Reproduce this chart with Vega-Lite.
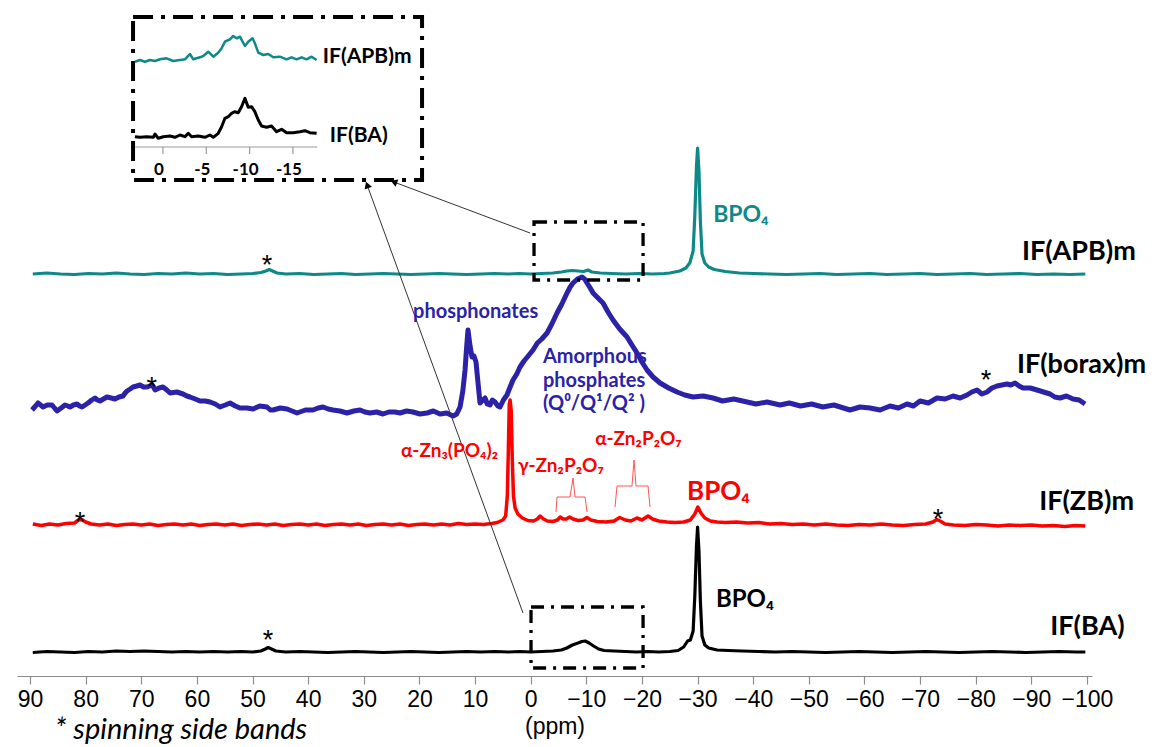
{
  "$schema": "https://vega.github.io/schema/vega-lite/v6.json",
  "width": 1075,
  "height": 676,
  "autosize": {"type": "none"},
  "padding": {"left": 17, "top": 0, "right": 62, "bottom": 71},
  "background": "white",
  "config": {"view": {"stroke": null}},
  "datasets": {
    "teal": [
      {"x":89.5,"v":402},{"x":87,"v":403},{"x":84.5,"v":402},{"x":82,"v":401.5},{"x":79.5,"v":402.5},{"x":77,"v":402},{"x":74.5,"v":403},{"x":72,"v":402},{"x":69.5,"v":401.5},{"x":67,"v":402.5},{"x":64.5,"v":402},{"x":62,"v":403},{"x":59.5,"v":402},{"x":57,"v":402.5},{"x":54.5,"v":401.5},{"x":52,"v":402},{"x":50,"v":402.5},{"x":48.5,"v":403.5},{"x":47.6,"v":405},{"x":47.0,"v":406.5},{"x":46.4,"v":405},{"x":45.6,"v":403},{"x":44,"v":402},{"x":41.5,"v":402.5},{"x":39,"v":401.5},{"x":36.5,"v":402},{"x":34,"v":402.5},{"x":31.5,"v":401.5},{"x":29,"v":402},{"x":26.5,"v":402.5},{"x":24,"v":402},{"x":21.5,"v":401.5},{"x":19,"v":402},{"x":16.5,"v":402.5},{"x":14,"v":402},{"x":11.5,"v":401.5},{"x":9,"v":402},{"x":6.5,"v":402.5},{"x":4,"v":402},{"x":2,"v":402.5},{"x":0,"v":402},{"x":-2,"v":402.5},{"x":-4,"v":403},{"x":-5.5,"v":404},{"x":-6.5,"v":405},{"x":-7.5,"v":405.5},{"x":-8.5,"v":405},{"x":-9.5,"v":404.5},{"x":-10.3,"v":406},{"x":-11,"v":404},{"x":-12.5,"v":403},{"x":-14.5,"v":402.5},{"x":-17,"v":402},{"x":-19.5,"v":402.5},{"x":-22,"v":402},{"x":-24,"v":402.5},{"x":-25,"v":403},{"x":-26.8,"v":405},{"x":-27.9,"v":408},{"x":-28.6,"v":413},{"x":-29.2,"v":425},{"x":-29.5,"v":460},{"x":-29.8,"v":510},{"x":-30.0,"v":528},{"x":-30.25,"v":505},{"x":-30.5,"v":455},{"x":-30.8,"v":422},{"x":-31.3,"v":413},{"x":-32,"v":409},{"x":-33,"v":406.5},{"x":-35,"v":404.5},{"x":-37.5,"v":403},{"x":-40,"v":402.5},{"x":-43,"v":402},{"x":-46,"v":401.5},{"x":-49,"v":402},{"x":-52,"v":402.5},{"x":-55,"v":401.5},{"x":-58,"v":402},{"x":-61,"v":402.5},{"x":-64,"v":401.5},{"x":-67,"v":402},{"x":-70,"v":402.5},{"x":-73,"v":401.5},{"x":-76,"v":402},{"x":-79,"v":402.5},{"x":-82,"v":401.5},{"x":-85,"v":402},{"x":-88,"v":402.5},{"x":-91,"v":401.5},{"x":-94,"v":402},{"x":-97,"v":401.5},{"x":-99.7,"v":402}
    ],
    "blue": [
      {"x":89.64,"v":266},{"x":89.0,"v":270},{"x":88.56,"v":273},{"x":88.1,"v":271},{"x":87.66,"v":269},{"x":86.9,"v":271},{"x":86.05,"v":271},{"x":85.6,"v":268},{"x":85.15,"v":265},{"x":84.4,"v":268},{"x":83.71,"v":271},{"x":83.2,"v":270},{"x":82.81,"v":269},{"x":82.2,"v":271},{"x":81.55,"v":272},{"x":81.1,"v":270},{"x":80.65,"v":269},{"x":80.1,"v":271},{"x":79.57,"v":273},{"x":78.9,"v":276},{"x":78.32,"v":278},{"x":77.9,"v":276},{"x":77.42,"v":275},{"x":76.8,"v":277},{"x":76.16,"v":279},{"x":75.4,"v":278},{"x":74.72,"v":277},{"x":74.0,"v":279},{"x":73.28,"v":280},{"x":72.9,"v":283},{"x":72.56,"v":285},{"x":72.0,"v":287},{"x":71.48,"v":289},{"x":70.8,"v":290},{"x":70.23,"v":291},{"x":69.6,"v":289},{"x":68.97,"v":289},{"x":68.5,"v":290},{"x":68.07,"v":291},{"x":67.8,"v":289},{"x":67.53,"v":286},{"x":66.8,"v":288},{"x":66.09,"v":289},{"x":65.4,"v":286},{"x":64.83,"v":283},{"x":63.6,"v":284},{"x":62.5,"v":282},{"x":61.8,"v":280},{"x":61.24,"v":279},{"x":60.3,"v":277},{"x":59.44,"v":275},{"x":58.5,"v":275},{"x":57.64,"v":274},{"x":56.7,"v":272},{"x":55.85,"v":269},{"x":54.9,"v":271},{"x":54.05,"v":273},{"x":53.1,"v":270},{"x":52.25,"v":268},{"x":51.0,"v":268},{"x":49.91,"v":267},{"x":48.7,"v":270},{"x":47.4,"v":269},{"x":46.8,"v":266},{"x":46.32,"v":266},{"x":45.0,"v":268},{"x":43.8,"v":267},{"x":42.9,"v":265},{"x":42.0,"v":263},{"x":40.5,"v":266},{"x":39.13,"v":266},{"x":38.2,"v":268},{"x":37.33,"v":269},{"x":36.4,"v":267},{"x":35.53,"v":266},{"x":34.3,"v":265},{"x":33.02,"v":263},{"x":31.8,"v":265},{"x":30.68,"v":266},{"x":29.8,"v":264},{"x":28.88,"v":263},{"x":27.7,"v":264},{"x":26.55,"v":262},{"x":25.5,"v":264},{"x":24.39,"v":264},{"x":23.49,"v":263},{"x":22.3,"v":265},{"x":21.15,"v":264},{"x":19.9,"v":262},{"x":18.63,"v":263},{"x":17.5,"v":265},{"x":16.3,"v":262},{"x":15.1,"v":263},{"x":13.96,"v":260},{"x":13.3,"v":262},{"x":12.7,"v":269},{"x":12.2,"v":285},{"x":11.8,"v":306},{"x":11.5,"v":330},{"x":11.27,"v":346},{"x":10.9,"v":330},{"x":10.55,"v":319},{"x":10.2,"v":320},{"x":9.83,"v":314},{"x":9.5,"v":295},{"x":9.11,"v":273},{"x":8.6,"v":276},{"x":8.21,"v":278},{"x":7.8,"v":272},{"x":7.31,"v":271},{"x":6.9,"v":276},{"x":6.41,"v":274},{"x":5.9,"v":270},{"x":5.51,"v":269},{"x":4.9,"v":276},{"x":4.26,"v":281},{"x":3.7,"v":289},{"x":3.18,"v":296},{"x":2.5,"v":302},{"x":1.92,"v":309},{"x":1.2,"v":315},{"x":0.6,"v":319},{"x":-0.42,"v":326},{"x":-1.2,"v":333},{"x":-2.0,"v":337},{"x":-2.94,"v":343},{"x":-3.8,"v":352},{"x":-4.73,"v":363},{"x":-5.6,"v":372},{"x":-6.53,"v":383},{"x":-7.1,"v":389},{"x":-7.61,"v":393},{"x":-8.4,"v":397},{"x":-9.23,"v":399},{"x":-9.7,"v":397},{"x":-10.13,"v":393},{"x":-10.7,"v":388},{"x":-11.21,"v":383},{"x":-12.1,"v":378},{"x":-13.0,"v":373},{"x":-13.9,"v":364},{"x":-14.8,"v":356},{"x":-16.0,"v":347},{"x":-17.32,"v":339},{"x":-18.2,"v":331},{"x":-19.12,"v":323},{"x":-20.0,"v":314},{"x":-20.91,"v":306},{"x":-22.0,"v":299},{"x":-23.25,"v":293},{"x":-24.8,"v":288},{"x":-26.31,"v":284},{"x":-27.7,"v":281},{"x":-29.18,"v":279},{"x":-31.0,"v":280},{"x":-32.78,"v":278},{"x":-34.5,"v":275},{"x":-36.5,"v":277},{"x":-38.89,"v":274},{"x":-40.5,"v":272},{"x":-42.5,"v":274},{"x":-44.82,"v":271},{"x":-46.5,"v":273},{"x":-48.5,"v":270},{"x":-50.5,"v":272},{"x":-52.5,"v":269},{"x":-54.5,"v":271},{"x":-57.4,"v":266},{"x":-59.2,"v":269},{"x":-61.0,"v":268},{"x":-62.8,"v":266},{"x":-64.59,"v":270},{"x":-66.1,"v":268},{"x":-67.65,"v":272},{"x":-68.8,"v":270},{"x":-69.99,"v":275},{"x":-71.5,"v":273},{"x":-73.04,"v":278},{"x":-74.5,"v":277},{"x":-75.92,"v":280},{"x":-77.2,"v":278},{"x":-78.43,"v":281},{"x":-79.3,"v":284},{"x":-80.23,"v":286},{"x":-81.1,"v":282},{"x":-82.03,"v":284},{"x":-82.9,"v":288},{"x":-83.83,"v":290},{"x":-84.7,"v":291},{"x":-85.63,"v":292},{"x":-86.3,"v":291},{"x":-87.06,"v":293},{"x":-87.8,"v":290},{"x":-88.5,"v":288},{"x":-89.8,"v":288},{"x":-91.02,"v":286},{"x":-92.2,"v":284},{"x":-93.36,"v":282},{"x":-94.2,"v":279},{"x":-95.15,"v":278},{"x":-96.3,"v":280},{"x":-97.49,"v":277},{"x":-98.6,"v":276},{"x":-99.65,"v":272}
    ],
    "red": [
      {"x":89.5,"v":152},{"x":88,"v":150.5},{"x":86.5,"v":152},{"x":85,"v":151},{"x":83.5,"v":152.5},{"x":82,"v":153},{"x":81.3,"v":156},{"x":80.7,"v":156.5},{"x":80,"v":154},{"x":79,"v":152},{"x":77.5,"v":151},{"x":76,"v":152},{"x":74.5,"v":150.5},{"x":73,"v":151.5},{"x":71.5,"v":152},{"x":70,"v":151},{"x":68.5,"v":152},{"x":67,"v":150.5},{"x":65.5,"v":151.5},{"x":64,"v":152},{"x":62.5,"v":151},{"x":61,"v":152},{"x":59.5,"v":150.5},{"x":58,"v":151.5},{"x":56.5,"v":152},{"x":55,"v":151},{"x":53.5,"v":152},{"x":52,"v":150.5},{"x":50.5,"v":151.5},{"x":49,"v":152},{"x":47.5,"v":151},{"x":46,"v":152},{"x":44.5,"v":150.5},{"x":43,"v":151.5},{"x":41.5,"v":152},{"x":40,"v":151},{"x":38.5,"v":152},{"x":37,"v":150.5},{"x":35.5,"v":151.5},{"x":34,"v":152},{"x":32.5,"v":151},{"x":31,"v":152},{"x":29.5,"v":150.5},{"x":28,"v":151.5},{"x":26.5,"v":152},{"x":25,"v":151},{"x":23.5,"v":152},{"x":22,"v":150.5},{"x":20.5,"v":151.5},{"x":19,"v":152},{"x":17.5,"v":151},{"x":16,"v":152},{"x":14.5,"v":151},{"x":13,"v":152.5},{"x":11.5,"v":151.5},{"x":10,"v":152},{"x":8.5,"v":151.5},{"x":7,"v":152.5},{"x":6,"v":153.5},{"x":5,"v":156},{"x":4.5,"v":160},{"x":4.2,"v":180},{"x":4.0,"v":230},{"x":3.85,"v":272},{"x":3.7,"v":276},{"x":3.5,"v":265},{"x":3.3,"v":215},{"x":3.1,"v":180},{"x":2.8,"v":168},{"x":2.3,"v":162},{"x":1.5,"v":158},{"x":0.5,"v":155.5},{"x":-0.5,"v":155},{"x":-1.2,"v":157},{"x":-1.7,"v":160},{"x":-2.3,"v":157},{"x":-3,"v":155},{"x":-4,"v":154.5},{"x":-4.8,"v":156},{"x":-5.3,"v":159},{"x":-5.8,"v":157},{"x":-6.4,"v":157},{"x":-7.0,"v":159},{"x":-7.6,"v":157},{"x":-8.5,"v":155.5},{"x":-9.4,"v":156},{"x":-10.1,"v":158.5},{"x":-10.8,"v":156},{"x":-12,"v":154.5},{"x":-13.5,"v":154},{"x":-15,"v":155},{"x":-16,"v":158.5},{"x":-17,"v":156},{"x":-18,"v":155},{"x":-19.1,"v":158},{"x":-20,"v":156},{"x":-21.1,"v":160},{"x":-21.9,"v":157},{"x":-23,"v":155},{"x":-24.5,"v":154},{"x":-26,"v":153.5},{"x":-27.5,"v":154},{"x":-28.7,"v":156},{"x":-29.5,"v":162},{"x":-30.05,"v":169},{"x":-30.6,"v":163},{"x":-31.3,"v":158},{"x":-32.3,"v":155},{"x":-33.5,"v":154},{"x":-35,"v":153.5},{"x":-37,"v":154},{"x":-39,"v":153},{"x":-41,"v":153.5},{"x":-43,"v":152},{"x":-45,"v":152.5},{"x":-47,"v":151.5},{"x":-49,"v":152},{"x":-51,"v":151},{"x":-53,"v":152},{"x":-55,"v":151},{"x":-57,"v":150.5},{"x":-59,"v":151.5},{"x":-61,"v":151},{"x":-63,"v":152},{"x":-65,"v":151},{"x":-67,"v":150.5},{"x":-69,"v":151.5},{"x":-71,"v":152},{"x":-72.3,"v":154},{"x":-73.0,"v":156.5},{"x":-73.6,"v":155},{"x":-74.5,"v":152},{"x":-76,"v":151},{"x":-78,"v":150.5},{"x":-80,"v":151.5},{"x":-82,"v":151},{"x":-84,"v":150},{"x":-86,"v":151},{"x":-88,"v":150.5},{"x":-90,"v":151},{"x":-92,"v":150},{"x":-94,"v":150.5},{"x":-96,"v":149.5},{"x":-98,"v":150.5},{"x":-99.7,"v":150}
    ],
    "black": [
      {"x":89.5,"v":23.5},{"x":87,"v":24.5},{"x":84.5,"v":24},{"x":82,"v":23.5},{"x":79.5,"v":24.5},{"x":77,"v":24},{"x":74.5,"v":25},{"x":72,"v":24.5},{"x":69.5,"v":25},{"x":67,"v":24.5},{"x":64.5,"v":24},{"x":62,"v":24.5},{"x":59.5,"v":24},{"x":57,"v":24.5},{"x":54.5,"v":24},{"x":52,"v":24.5},{"x":50,"v":24},{"x":48.5,"v":25},{"x":47.7,"v":27},{"x":47.2,"v":28.5},{"x":46.6,"v":27},{"x":45.8,"v":25},{"x":44,"v":24},{"x":41.5,"v":24.5},{"x":39,"v":24},{"x":36.5,"v":23.5},{"x":34,"v":24},{"x":31.5,"v":24.5},{"x":29,"v":24},{"x":26.5,"v":23.5},{"x":24,"v":24},{"x":21.5,"v":24.5},{"x":19,"v":24},{"x":16.5,"v":23.5},{"x":14,"v":24},{"x":11.5,"v":24.5},{"x":9,"v":24},{"x":6.5,"v":24.5},{"x":4,"v":24},{"x":2,"v":24.5},{"x":0,"v":24},{"x":-2,"v":24.5},{"x":-4,"v":25},{"x":-5.5,"v":26},{"x":-6.5,"v":28},{"x":-7.5,"v":31},{"x":-8.5,"v":33},{"x":-9.2,"v":34.5},{"x":-9.8,"v":35},{"x":-10.5,"v":33},{"x":-11.3,"v":30},{"x":-12.2,"v":27},{"x":-13.2,"v":25.5},{"x":-15,"v":25},{"x":-17,"v":24.5},{"x":-19,"v":24},{"x":-21,"v":24.5},{"x":-23,"v":24},{"x":-25,"v":24.5},{"x":-26.5,"v":25.5},{"x":-27.5,"v":29},{"x":-28.2,"v":35},{"x":-28.7,"v":36},{"x":-29.2,"v":45},{"x":-29.5,"v":80},{"x":-29.8,"v":130},{"x":-30.0,"v":149},{"x":-30.25,"v":125},{"x":-30.5,"v":75},{"x":-30.8,"v":40},{"x":-31.3,"v":31},{"x":-32,"v":28},{"x":-33.5,"v":26},{"x":-35.5,"v":25.5},{"x":-38,"v":25},{"x":-41,"v":24.5},{"x":-44,"v":24},{"x":-47,"v":24.5},{"x":-50,"v":24},{"x":-53,"v":23.5},{"x":-56,"v":24},{"x":-59,"v":24.5},{"x":-62,"v":24},{"x":-65,"v":23.5},{"x":-68,"v":24},{"x":-71,"v":24.5},{"x":-74,"v":24},{"x":-77,"v":23.5},{"x":-80,"v":24},{"x":-83,"v":24.5},{"x":-86,"v":24},{"x":-89,"v":23.5},{"x":-92,"v":24},{"x":-95,"v":24.5},{"x":-98,"v":24},{"x":-99.7,"v":24}
    ],
    "insetTeal": [
      {"x":3.23,"v":614.3},{"x":2.65,"v":616},{"x":2.08,"v":614.3},{"x":1.5,"v":616},{"x":0.92,"v":615},{"x":0.35,"v":616.7},{"x":-0.42,"v":617.7},{"x":-1.19,"v":615},{"x":-1.96,"v":616},{"x":-2.54,"v":616.7},{"x":-3.11,"v":622},{"x":-3.5,"v":616.7},{"x":-4.27,"v":618.7},{"x":-4.65,"v":620},{"x":-5.23,"v":624.3},{"x":-5.81,"v":619.3},{"x":-6.38,"v":623.3},{"x":-6.77,"v":627.7},{"x":-7.15,"v":634.3},{"x":-7.73,"v":636.7},{"x":-8.11,"v":640},{"x":-8.5,"v":637.7},{"x":-8.88,"v":639.3},{"x":-9.46,"v":630},{"x":-9.84,"v":634.3},{"x":-10.34,"v":637.7},{"x":-10.61,"v":632.7},{"x":-11.0,"v":623.3},{"x":-11.57,"v":621},{"x":-12.15,"v":622},{"x":-12.73,"v":618.7},{"x":-13.49,"v":619.3},{"x":-14.27,"v":616.7},{"x":-14.84,"v":618.7},{"x":-15.42,"v":616.7},{"x":-16.0,"v":618.7},{"x":-16.57,"v":616.7},{"x":-17.15,"v":619.3},{"x":-17.73,"v":616}
    ],
    "insetBlack": [
      {"x":3.23,"v":539.3},{"x":2.65,"v":538.7},{"x":1.88,"v":539.3},{"x":1.11,"v":538.7},{"x":0.92,"v":542},{"x":0.54,"v":537.7},{"x":-0.04,"v":539.3},{"x":-0.81,"v":540},{"x":-1.38,"v":538.7},{"x":-1.96,"v":541},{"x":-2.54,"v":539.3},{"x":-2.92,"v":542.7},{"x":-3.31,"v":539.3},{"x":-4.07,"v":540},{"x":-4.84,"v":538.7},{"x":-5.42,"v":541},{"x":-5.81,"v":538.7},{"x":-6.38,"v":542.7},{"x":-6.77,"v":549.3},{"x":-7.15,"v":557.7},{"x":-7.54,"v":559.3},{"x":-7.92,"v":562.7},{"x":-8.3,"v":564.3},{"x":-8.69,"v":563.3},{"x":-9.07,"v":569.3},{"x":-9.46,"v":577.7},{"x":-9.84,"v":568.7},{"x":-10.23,"v":569.3},{"x":-10.61,"v":564.3},{"x":-11.0,"v":556},{"x":-11.38,"v":550},{"x":-11.96,"v":548.7},{"x":-12.53,"v":550},{"x":-13.11,"v":544.3},{"x":-13.69,"v":546.7},{"x":-14.27,"v":543.3},{"x":-15.03,"v":543.3},{"x":-15.8,"v":544.3},{"x":-16.38,"v":545.3},{"x":-16.96,"v":543.3},{"x":-17.73,"v":542.7}
    ]
  },
  "layer": [
    {
      "encoding": {
        "x": {"field": "x", "type": "quantitative", "scale": {"domain": [92.34, -100.9], "nice": false, "zero": false},
          "axis": {"values": [90,80,70,60,50,40,30,20,10,0,-10,-20,-30,-40,-50,-60,-70,-80,-90,-100], "grid": false, "labelFlush": false,
            "domainColor": "#8c8c8c", "domainWidth": 1.2, "tickColor": "#8c8c8c", "tickWidth": 1.2, "tickSize": 8,
            "labelFont": "Liberation Sans", "labelFontSize": 23, "labelColor": "#000000", "labelPadding": 4,
            "title": "(ppm)", "titleFont": "Liberation Sans", "titleFontSize": 23, "titleFontWeight": "normal", "titleColor": "#000000", "titlePadding": 4}},
        "y": {"field": "v", "type": "quantitative", "scale": {"domain": [0, 676], "nice": false, "zero": false}, "axis": null}
      },
      "layer": [
        {"data": {"name": "teal"}, "mark": {"type": "line", "color": "#0d8a87", "strokeWidth": 3.2, "strokeJoin": "round"}},
        {"data": {"name": "blue"}, "mark": {"type": "line", "color": "#2b22a8", "strokeWidth": 5, "strokeJoin": "round"}},
        {"data": {"name": "red"}, "mark": {"type": "line", "color": "#ff0000", "strokeWidth": 3.5, "strokeJoin": "round"}},
        {"data": {"name": "black"}, "mark": {"type": "line", "color": "#000000", "strokeWidth": 3.2, "strokeJoin": "round"}},
        {
          "data": {"values": [
            {"b": "g", "x": -4.55, "v": 164}, {"b": "g", "x": -4.73, "v": 179}, {"b": "g", "x": -7.07, "v": 179}, {"b": "g", "x": -7.61, "v": 198}, {"b": "g", "x": -7.97, "v": 179}, {"b": "g", "x": -9.77, "v": 179}, {"b": "g", "x": -10.13, "v": 164},
            {"b": "a", "x": -15.16, "v": 169}, {"b": "a", "x": -15.52, "v": 190}, {"b": "a", "x": -18.21, "v": 190}, {"b": "a", "x": -18.57, "v": 216}, {"b": "a", "x": -18.93, "v": 190}, {"b": "a", "x": -21.09, "v": 190}, {"b": "a", "x": -21.45, "v": 169}
          ]},
          "mark": {"type": "line", "color": "#ff5555", "strokeWidth": 1},
          "encoding": {"detail": {"field": "b"}, "order": {"field": "x", "sort": "descending"}}
        },
        {
          "data": {"values": [{"id": 1, "x1": 0.12, "v1": 443, "x2": 24.6, "v2": 494}, {"id": 2, "x1": 1.38, "v1": 63, "x2": 29.4, "v2": 491}]},
          "mark": {"type": "rule", "color": "#333333", "strokeWidth": 1},
          "encoding": {"x": {"field": "x1", "type": "quantitative"}, "x2": {"field": "x2"}, "y": {"field": "v1", "type": "quantitative"}, "y2": {"field": "v2"}}
        },
        {
          "data": {"values": [{"x": 24.6, "v": 494}]},
          "mark": {"type": "point", "shape": "triangle-up", "filled": true, "color": "#000000", "size": 60, "angle": 291, "opacity": 1}
        },
        {
          "data": {"values": [{"x": 29.4, "v": 491}]},
          "mark": {"type": "point", "shape": "triangle-up", "filled": true, "color": "#000000", "size": 60, "angle": 340, "opacity": 1}
        },
        {
          "data": {"values": [{"x1": -0.6, "x2": -20.2, "v1": 454, "v2": 396}, {"x1": -0.06, "x2": -20.2, "v1": 69, "v2": 8}]},
          "mark": {"type": "rect", "fillOpacity": 0, "stroke": "#000000", "strokeWidth": 3.3, "strokeDash": [13, 7, 3, 7]},
          "encoding": {"x": {"field": "x1", "type": "quantitative"}, "x2": {"field": "x2"}, "y": {"field": "v1", "type": "quantitative"}, "y2": {"field": "v2"}}
        },
        {
          "data": {"values": [{"x1": 71.48, "x2": 19.53, "v1": 659, "v2": 496}]},
          "mark": {"type": "rect", "fillOpacity": 0, "stroke": "#000000", "strokeWidth": 4, "strokeDash": [20, 8, 4, 8]},
          "encoding": {"x": {"field": "x1", "type": "quantitative"}, "x2": {"field": "x2"}, "y": {"field": "v1", "type": "quantitative"}, "y2": {"field": "v2"}}
        },
        {
          "data": {"values": [
            {"x": -88.3, "v": 416, "t": "IF(APB)m"}, {"x": -87.4, "v": 303, "t": "IF(borax)m"}, {"x": -91.4, "v": 166, "t": "IF(ZB)m"}, {"x": -93.4, "v": 41, "t": "IF(BA)"}
          ]},
          "mark": {"type": "text", "align": "left", "baseline": "alphabetic", "font": "Lato", "fontWeight": "bold", "fontSize": 27, "color": "#000000"},
          "encoding": {"text": {"field": "t"}}
        },
        {
          "data": {"values": [{"x": -32.8, "v": 454, "t": "BPO₄"}]},
          "mark": {"type": "text", "align": "left", "baseline": "alphabetic", "font": "Lato", "fontWeight": "bold", "fontSize": 23, "color": "#0d8a87"},
          "encoding": {"text": {"field": "t"}}
        },
        {
          "data": {"values": [{"x": -28.1, "v": 176, "t": "BPO₄"}]},
          "mark": {"type": "text", "align": "left", "baseline": "alphabetic", "font": "Lato", "fontWeight": "bold", "fontSize": 26, "color": "#ff0000"},
          "encoding": {"text": {"field": "t"}}
        },
        {
          "data": {"values": [{"x": -33.3, "v": 69, "t": "BPO₄"}]},
          "mark": {"type": "text", "align": "left", "baseline": "alphabetic", "font": "Lato", "fontWeight": "bold", "fontSize": 24, "color": "#000000"},
          "encoding": {"text": {"field": "t"}}
        },
        {
          "data": {"values": [
            {"x": 21.15, "v": 358, "t": "phosphonates"}, {"x": -2.2, "v": 313, "t": "Amorphous"}, {"x": -2.2, "v": 289, "t": "phosphates"}, {"x": -2.2, "v": 266, "t": "(Q⁰/Q¹/Q² )"}
          ]},
          "mark": {"type": "text", "align": "left", "baseline": "alphabetic", "font": "Lato", "fontWeight": "bold", "fontSize": 20, "color": "#2b22a8"},
          "encoding": {"text": {"field": "t"}}
        },
        {
          "data": {"values": [
            {"x": 23.3, "v": 219, "t": "α-Zn₃(PO₄)₂"}, {"x": 2.3, "v": 204, "t": "γ-Zn₂P₂O₇"}, {"x": -11.6, "v": 231, "t": "α-Zn₂P₂O₇"}
          ]},
          "mark": {"type": "text", "align": "left", "baseline": "alphabetic", "font": "Lato", "fontWeight": "bold", "fontSize": 19, "color": "#ff0000"},
          "encoding": {"text": {"field": "t"}}
        },
        {
          "data": {"values": [
            {"x": 47.4, "v": 406, "t": "*"}, {"x": 68.1, "v": 284, "t": "*"}, {"x": -81.85, "v": 291, "t": "*"}, {"x": 81.0, "v": 149, "t": "*"}, {"x": -73.2, "v": 152, "t": "*"}, {"x": 47.2, "v": 31, "t": "*"}
          ]},
          "mark": {"type": "text", "align": "center", "baseline": "alphabetic", "font": "Liberation Sans", "fontSize": 27, "color": "#000000", "dy": 4},
          "encoding": {"text": {"field": "t"}}
        },
        {
          "data": {"values": [{"x": 85.5, "v": -63, "t": "* spinning side bands"}]},
          "mark": {"type": "text", "align": "left", "baseline": "alphabetic", "font": "Lato", "fontStyle": "italic", "fontSize": 29, "color": "#000000"},
          "encoding": {"text": {"field": "t"}}
        }
      ]
    },
    {
      "encoding": {
        "x": {"field": "x", "type": "quantitative", "scale": {"domain": [16.84, -107.2], "nice": false, "zero": false}, "axis": null},
        "y": {"field": "v", "type": "quantitative", "scale": {"domain": [0, 676], "nice": false, "zero": false}, "axis": null}
      },
      "layer": [
        {"data": {"name": "insetTeal"}, "mark": {"type": "line", "color": "#0d8a87", "strokeWidth": 2.5, "strokeJoin": "round"}},
        {"data": {"name": "insetBlack"}, "mark": {"type": "line", "color": "#000000", "strokeWidth": 3, "strokeJoin": "round"}},
        {
          "data": {"values": [{"x1": 3.2, "x2": -17.8, "v1": 529, "v2": 529}, {"x1": 0, "x2": 0, "v1": 529, "v2": 522}, {"x1": -5, "x2": -5, "v1": 529, "v2": 522}, {"x1": -10, "x2": -10, "v1": 529, "v2": 522}, {"x1": -15, "x2": -15, "v1": 529, "v2": 522}]},
          "mark": {"type": "rule", "color": "#9a9a9a", "strokeWidth": 1.2},
          "encoding": {"x": {"field": "x1", "type": "quantitative"}, "x2": {"field": "x2"}, "y": {"field": "v1", "type": "quantitative"}, "y2": {"field": "v2"}}
        },
        {
          "data": {"values": [{"x": 0, "v": 501, "t": "0"}, {"x": -5, "v": 501, "t": "-5"}, {"x": -10, "v": 501, "t": "-10"}, {"x": -15, "v": 501, "t": "-15"}]},
          "mark": {"type": "text", "align": "center", "baseline": "alphabetic", "font": "Lato", "fontWeight": "bold", "fontSize": 17, "color": "#000000", "dx": -4},
          "encoding": {"text": {"field": "t"}}
        },
        {
          "data": {"values": [{"x": -18.45, "v": 613, "t": "IF(APB)m"}, {"x": -19.26, "v": 534, "t": "IF(BA)"}]},
          "mark": {"type": "text", "align": "left", "baseline": "alphabetic", "font": "Lato", "fontWeight": "bold", "fontSize": 21, "color": "#000000"},
          "encoding": {"text": {"field": "t"}}
        }
      ]
    }
  ],
  "resolve": {"scale": {"x": "independent"}, "axis": {"x": "independent"}}
}
